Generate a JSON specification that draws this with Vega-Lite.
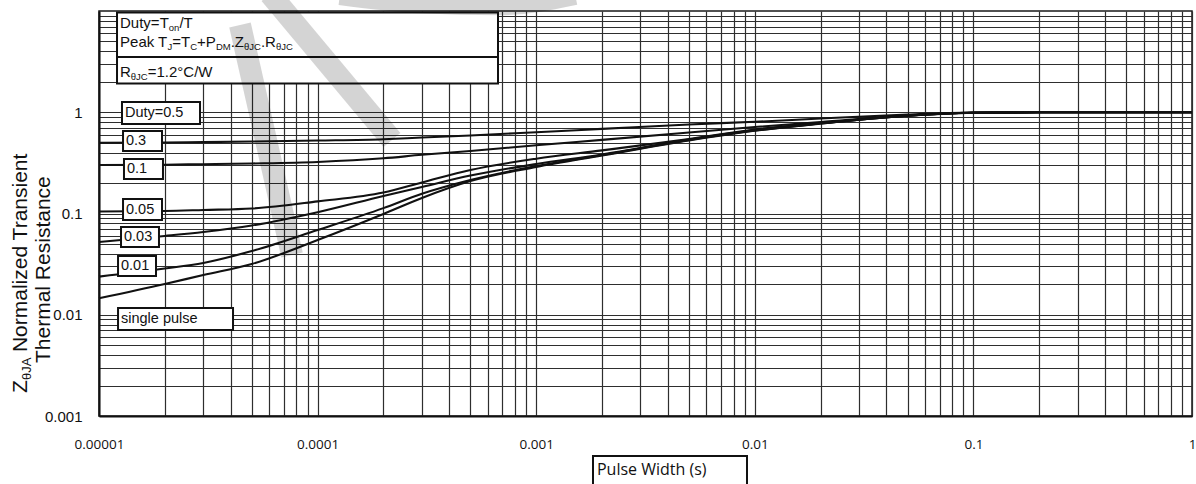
{
  "$schema": "https://vega.github.io/schema/vega-lite/v6.json",
  "width": 1093,
  "height": 405,
  "autosize": {"type": "none"},
  "padding": {"left": 99, "top": 11, "right": 4, "bottom": 68},
  "background": "white",
  "config": {
    "font": "Liberation Sans",
    "view": {"stroke": "#1a1a1a", "strokeWidth": 1.5},
    "axis": {
      "grid": true,
      "gridColor": "#2e2e2e",
      "gridWidth": 1.2,
      "ticks": false,
      "domainColor": "#111111",
      "domainWidth": 2,
      "labelColor": "#111111",
      "labelOverlap": false,
      "labelBound": false,
      "labelFlush": false
    }
  },
  "datasets": {
    "curves": [
      {"duty": "0.5", "t": 0.00001, "z": 0.500}, {"duty": "0.5", "t": 0.00002, "z": 0.503}, {"duty": "0.5", "t": 0.00003, "z": 0.507}, {"duty": "0.5", "t": 0.00005, "z": 0.514}, {"duty": "0.5", "t": 0.0001, "z": 0.526}, {"duty": "0.5", "t": 0.0002, "z": 0.542}, {"duty": "0.5", "t": 0.0003, "z": 0.563}, {"duty": "0.5", "t": 0.0005, "z": 0.589}, {"duty": "0.5", "t": 0.001, "z": 0.635}, {"duty": "0.5", "t": 0.002, "z": 0.685}, {"duty": "0.5", "t": 0.005, "z": 0.757}, {"duty": "0.5", "t": 0.01, "z": 0.805}, {"duty": "0.5", "t": 0.02, "z": 0.868}, {"duty": "0.5", "t": 0.05, "z": 0.950}, {"duty": "0.5", "t": 0.1, "z": 0.992}, {"duty": "0.5", "t": 0.2, "z": 1}, {"duty": "0.5", "t": 0.5, "z": 1}, {"duty": "0.5", "t": 1, "z": 1},
      {"duty": "0.3", "t": 0.00001, "z": 0.301}, {"duty": "0.3", "t": 0.00002, "z": 0.303}, {"duty": "0.3", "t": 0.00003, "z": 0.307}, {"duty": "0.3", "t": 0.00005, "z": 0.312}, {"duty": "0.3", "t": 0.0001, "z": 0.323}, {"duty": "0.3", "t": 0.0002, "z": 0.351}, {"duty": "0.3", "t": 0.0003, "z": 0.380}, {"duty": "0.3", "t": 0.0005, "z": 0.414}, {"duty": "0.3", "t": 0.001, "z": 0.472}, {"duty": "0.3", "t": 0.002, "z": 0.534}, {"duty": "0.3", "t": 0.005, "z": 0.630}, {"duty": "0.3", "t": 0.01, "z": 0.715}, {"duty": "0.3", "t": 0.02, "z": 0.801}, {"duty": "0.3", "t": 0.05, "z": 0.929}, {"duty": "0.3", "t": 0.1, "z": 0.988}, {"duty": "0.3", "t": 0.2, "z": 1}, {"duty": "0.3", "t": 0.5, "z": 1}, {"duty": "0.3", "t": 1, "z": 1},
      {"duty": "0.1", "t": 0.00001, "z": 0.1047}, {"duty": "0.1", "t": 0.00002, "z": 0.1058}, {"duty": "0.1", "t": 0.00003, "z": 0.1083}, {"duty": "0.1", "t": 0.00005, "z": 0.112}, {"duty": "0.1", "t": 0.0001, "z": 0.1317}, {"duty": "0.1", "t": 0.0002, "z": 0.1612}, {"duty": "0.1", "t": 0.0003, "z": 0.2024}, {"duty": "0.1", "t": 0.0005, "z": 0.269}, {"duty": "0.1", "t": 0.001, "z": 0.348}, {"duty": "0.1", "t": 0.002, "z": 0.420}, {"duty": "0.1", "t": 0.005, "z": 0.544}, {"duty": "0.1", "t": 0.01, "z": 0.676}, {"duty": "0.1", "t": 0.02, "z": 0.783}, {"duty": "0.1", "t": 0.05, "z": 0.929}, {"duty": "0.1", "t": 0.1, "z": 0.988}, {"duty": "0.1", "t": 0.2, "z": 1}, {"duty": "0.1", "t": 0.5, "z": 1}, {"duty": "0.1", "t": 1, "z": 1},
      {"duty": "0.05", "t": 0.00001, "z": 0.0523}, {"duty": "0.05", "t": 0.00002, "z": 0.0600}, {"duty": "0.05", "t": 0.00003, "z": 0.0657}, {"duty": "0.05", "t": 0.00005, "z": 0.0761}, {"duty": "0.05", "t": 0.0001, "z": 0.103}, {"duty": "0.05", "t": 0.0002, "z": 0.149}, {"duty": "0.05", "t": 0.0003, "z": 0.1831}, {"duty": "0.05", "t": 0.0005, "z": 0.237}, {"duty": "0.05", "t": 0.001, "z": 0.308}, {"duty": "0.05", "t": 0.002, "z": 0.383}, {"duty": "0.05", "t": 0.005, "z": 0.538}, {"duty": "0.05", "t": 0.01, "z": 0.668}, {"duty": "0.05", "t": 0.02, "z": 0.778}, {"duty": "0.05", "t": 0.05, "z": 0.927}, {"duty": "0.05", "t": 0.1, "z": 0.988}, {"duty": "0.05", "t": 0.2, "z": 1}, {"duty": "0.05", "t": 0.5, "z": 1}, {"duty": "0.05", "t": 1, "z": 1},
      {"duty": "0.02", "t": 0.00001, "z": 0.0238}, {"duty": "0.02", "t": 0.00002, "z": 0.0286}, {"duty": "0.02", "t": 0.00003, "z": 0.0325}, {"duty": "0.02", "t": 0.00005, "z": 0.0426}, {"duty": "0.02", "t": 0.0001, "z": 0.0687}, {"duty": "0.02", "t": 0.0002, "z": 0.113}, {"duty": "0.02", "t": 0.0003, "z": 0.1565}, {"duty": "0.02", "t": 0.0005, "z": 0.214}, {"duty": "0.02", "t": 0.001, "z": 0.294}, {"duty": "0.02", "t": 0.002, "z": 0.378}, {"duty": "0.02", "t": 0.005, "z": 0.532}, {"duty": "0.02", "t": 0.01, "z": 0.660}, {"duty": "0.02", "t": 0.02, "z": 0.774}, {"duty": "0.02", "t": 0.05, "z": 0.925}, {"duty": "0.02", "t": 0.1, "z": 0.988}, {"duty": "0.02", "t": 0.2, "z": 1}, {"duty": "0.02", "t": 0.5, "z": 1}, {"duty": "0.02", "t": 1, "z": 1},
      {"duty": "single", "t": 0.00001, "z": 0.01454}, {"duty": "single", "t": 0.00002, "z": 0.0201}, {"duty": "single", "t": 0.00003, "z": 0.0247}, {"duty": "single", "t": 0.00005, "z": 0.0317}, {"duty": "single", "t": 0.0001, "z": 0.0547}, {"duty": "single", "t": 0.0002, "z": 0.0989}, {"duty": "single", "t": 0.0003, "z": 0.1422}, {"duty": "single", "t": 0.0005, "z": 0.209}, {"duty": "single", "t": 0.001, "z": 0.288}, {"duty": "single", "t": 0.002, "z": 0.374}, {"duty": "single", "t": 0.005, "z": 0.526}, {"duty": "single", "t": 0.01, "z": 0.656}, {"duty": "single", "t": 0.02, "z": 0.773}, {"duty": "single", "t": 0.05, "z": 0.922}, {"duty": "single", "t": 0.1, "z": 0.988}, {"duty": "single", "t": 0.2, "z": 1}, {"duty": "single", "t": 0.5, "z": 1}, {"duty": "single", "t": 1, "z": 1}
    ],
    "tags": [
      {"label": "", "x": 0.00001209, "x2": 0.0006688, "y": 9.665, "y2": 3.513, "tx": 0.00001209, "ty": 5},
      {"label": "", "x": 0.00001209, "x2": 0.0006688, "y": 3.513, "y2": 1.9227, "tx": 0.00001209, "ty": 2.5},
      {"label": "Duty=0.5", "x": 0.00001274, "x2": 0.00002898, "y": 1.2627, "y2": 0.7655, "tx": 0.00001315, "ty": 0.9831},
      {"label": "0.3", "x": 0.00001288, "x2": 0.00001942, "y": 0.653, "y2": 0.4143, "tx": 0.00001329, "ty": 0.5201},
      {"label": "0.1", "x": 0.00001301, "x2": 0.00001962, "y": 0.3453, "y2": 0.2191, "tx": 0.00001343, "ty": 0.2751},
      {"label": "0.05", "x": 0.00001288, "x2": 0.00001942, "y": 0.139, "y2": 0.08624, "tx": 0.00001329, "ty": 0.1095},
      {"label": "0.03", "x": 0.00001261, "x2": 0.00001881, "y": 0.07356, "y2": 0.04669, "tx": 0.00001301, "ty": 0.05859},
      {"label": "0.01", "x": 0.00001222, "x2": 0.00001823, "y": 0.03804, "y2": 0.02413, "tx": 0.00001261, "ty": 0.0303},
      {"label": "single pulse", "x": 0.00001222, "x2": 0.00004103, "y": 0.01166, "y2": 0.007068, "tx": 0.00001261, "ty": 0.009078},
      {"label": "Pulse Width (s)", "x": 0.001819, "x2": 0.009211, "y": 0.0004027, "y2": 0.0001859, "tx": 0.001897, "ty": 0.0002929}
    ],
    "note": [
      {"text": "Duty=T", "x": 0.00001248, "y": 6.794},
      {"text": "/T", "x": 0.00002332, "y": 6.794},
      {"text": "Peak T", "x": 0.00001248, "y": 4.411},
      {"text": "=T", "x": 0.00002164, "y": 4.411},
      {"text": "+P", "x": 0.0000281, "y": 4.411},
      {"text": ".Z", "x": 0.00004004, "y": 4.411},
      {"text": ".R", "x": 0.00005503, "y": 4.411},
      {"text": "R", "x": 0.00001248, "y": 2.229},
      {"text": "=1.2°C/W", "x": 0.0000167, "y": 2.229}
    ],
    "note_sub": [
      {"text": "on", "x": 0.00002086, "y": 6.794},
      {"text": "J", "x": 0.00002058, "y": 4.411},
      {"text": "C", "x": 0.00002614, "y": 4.411},
      {"text": "DM", "x": 0.00003425, "y": 4.411},
      {"text": "θJC", "x": 0.00004606, "y": 4.411},
      {"text": "θJC", "x": 0.00006446, "y": 4.411},
      {"text": "θJC", "x": 0.00001398, "y": 2.229}
    ],
    "ytitle": [
      {"text": "Z", "x": 0.000004684, "y": 0.001688},
      {"text": "Normalized Transient", "x": 0.000004684, "y": 0.004281},
      {"text": "Thermal Resistance", "x": 0.000005969, "y": 0.003339}
    ],
    "ytitle_sub": [
      {"text": "θJA", "x": 0.000004684, "y": 0.002268}
    ],
    "watermark": [
      {"stroke": "a", "x": 0.00006057, "y": 14.72},
      {"stroke": "a", "x": 0.0002189, "y": 0.532},
      {"stroke": "b", "x": 0.00004416, "y": 7.274},
      {"stroke": "b", "x": 0.00007637, "y": 0.03891},
      {"stroke": "c", "x": 0.0001266, "y": 14.72},
      {"stroke": "c", "x": 0.0002941, "y": 12.2},
      {"stroke": "c", "x": 0.0006831, "y": 11.66},
      {"stroke": "c", "x": 0.001505, "y": 14.72}
    ]
  },
  "layer": [
    {
      "data": {"name": "curves"},
      "mark": {"type": "line", "interpolate": "monotone", "stroke": "#111111", "strokeWidth": 2.1},
      "encoding": {
        "x": {
          "field": "t", "type": "quantitative", "title": null,
          "scale": {"type": "log", "domain": [0.00001, 1], "nice": false},
          "axis": {
            "values": [0.00001, 0.00002, 0.00003, 0.00004, 0.00005, 0.00006, 0.00007, 0.00008, 0.00009, 0.0001, 0.0002, 0.0003, 0.0004, 0.0005, 0.0006, 0.0007, 0.0008, 0.0009, 0.001, 0.002, 0.003, 0.004, 0.005, 0.006, 0.007, 0.008, 0.009, 0.01, 0.02, 0.03, 0.04, 0.05, 0.06, 0.07, 0.08, 0.09, 0.1, 0.2, 0.3, 0.4, 0.5, 0.6, 0.7, 0.8, 0.9, 1],
            "labelExpr": "abs(log(datum.value)/LN10 - round(log(datum.value)/LN10)) < 0.001 ? format(datum.value, '~f') : ''",
            "labelFont": "Open Sans",
            "labelFontSize": 13.5,
            "labelPadding": 21
          }
        },
        "y": {
          "field": "z", "type": "quantitative", "title": null,
          "scale": {"type": "log", "domain": [0.001, 10], "nice": false},
          "axis": {
            "values": [0.001, 0.002, 0.003, 0.004, 0.005, 0.006, 0.007, 0.008, 0.009, 0.01, 0.02, 0.03, 0.04, 0.05, 0.06, 0.07, 0.08, 0.09, 0.1, 0.2, 0.3, 0.4, 0.5, 0.6, 0.7, 0.8, 0.9, 1, 2, 3, 4, 5, 6, 7, 8, 9],
            "labelExpr": "abs(log(datum.value)/LN10 - round(log(datum.value)/LN10)) < 0.001 ? format(datum.value, '~f') : ''",
            "labelFont": "Liberation Sans",
            "labelFontSize": 15,
            "labelPadding": 17
          }
        },
        "detail": {"field": "duty"}
      }
    },
    {
      "data": {"name": "tags"},
      "mark": {"type": "rect", "fill": "white", "stroke": "#111111", "strokeWidth": 2},
      "encoding": {
        "x": {"field": "x", "type": "quantitative", "title": null, "scale": {"type": "log", "domain": [0.00001, 1], "nice": false}},
        "x2": {"field": "x2"},
        "y": {"field": "y", "type": "quantitative", "title": null, "scale": {"type": "log", "domain": [0.001, 10], "nice": false}},
        "y2": {"field": "y2"}
      }
    },
    {
      "data": {"name": "tags"},
      "transform": [{"filter": "datum.label != 'Pulse Width (s)'"}],
      "mark": {"type": "text", "align": "left", "baseline": "middle", "font": "Liberation Sans", "fontSize": 14.5, "color": "#111111"},
      "encoding": {
        "x": {"field": "tx", "type": "quantitative", "title": null, "scale": {"type": "log", "domain": [0.00001, 1], "nice": false}},
        "y": {"field": "ty", "type": "quantitative", "title": null, "scale": {"type": "log", "domain": [0.001, 10], "nice": false}},
        "text": {"field": "label"}
      }
    },
    {
      "data": {"name": "tags"},
      "transform": [{"filter": "datum.label == 'Pulse Width (s)'"}],
      "mark": {"type": "text", "align": "left", "baseline": "middle", "font": "Open Sans", "fontSize": 16, "color": "#111111"},
      "encoding": {
        "x": {"field": "tx", "type": "quantitative", "title": null, "scale": {"type": "log", "domain": [0.00001, 1], "nice": false}},
        "y": {"field": "ty", "type": "quantitative", "title": null, "scale": {"type": "log", "domain": [0.001, 10], "nice": false}},
        "text": {"field": "label"}
      }
    },
    {
      "data": {"name": "note"},
      "mark": {"type": "text", "align": "left", "baseline": "alphabetic", "font": "Liberation Sans", "fontSize": 15, "color": "#111111"},
      "encoding": {
        "x": {"field": "x", "type": "quantitative", "title": null, "scale": {"type": "log", "domain": [0.00001, 1], "nice": false}},
        "y": {"field": "y", "type": "quantitative", "title": null, "scale": {"type": "log", "domain": [0.001, 10], "nice": false}},
        "text": {"field": "text"}
      }
    },
    {
      "data": {"name": "note_sub"},
      "mark": {"type": "text", "align": "left", "baseline": "alphabetic", "font": "Liberation Sans", "fontSize": 9.5, "dy": 3, "color": "#111111"},
      "encoding": {
        "x": {"field": "x", "type": "quantitative", "title": null, "scale": {"type": "log", "domain": [0.00001, 1], "nice": false}},
        "y": {"field": "y", "type": "quantitative", "title": null, "scale": {"type": "log", "domain": [0.001, 10], "nice": false}},
        "text": {"field": "text"}
      }
    },
    {
      "data": {"name": "ytitle"},
      "mark": {"type": "text", "align": "left", "baseline": "alphabetic", "angle": 270, "font": "Liberation Sans", "fontSize": 21, "color": "#111111"},
      "encoding": {
        "x": {"field": "x", "type": "quantitative", "title": null, "scale": {"type": "log", "domain": [0.00001, 1], "nice": false}},
        "y": {"field": "y", "type": "quantitative", "title": null, "scale": {"type": "log", "domain": [0.001, 10], "nice": false}},
        "text": {"field": "text"}
      }
    },
    {
      "data": {"name": "ytitle_sub"},
      "mark": {"type": "text", "align": "left", "baseline": "alphabetic", "angle": 270, "font": "Liberation Sans", "fontSize": 13, "dy": 4.5, "color": "#111111"},
      "encoding": {
        "x": {"field": "x", "type": "quantitative", "title": null, "scale": {"type": "log", "domain": [0.00001, 1], "nice": false}},
        "y": {"field": "y", "type": "quantitative", "title": null, "scale": {"type": "log", "domain": [0.001, 10], "nice": false}},
        "text": {"field": "text"}
      }
    },
    {
      "data": {"name": "watermark"},
      "mark": {"type": "line", "interpolate": "monotone", "stroke": "black", "strokeWidth": 22, "strokeCap": "butt", "opacity": 0.17},
      "encoding": {
        "x": {"field": "x", "type": "quantitative", "title": null, "scale": {"type": "log", "domain": [0.00001, 1], "nice": false}},
        "y": {"field": "y", "type": "quantitative", "title": null, "scale": {"type": "log", "domain": [0.001, 10], "nice": false}},
        "detail": {"field": "stroke"}
      }
    }
  ]
}
